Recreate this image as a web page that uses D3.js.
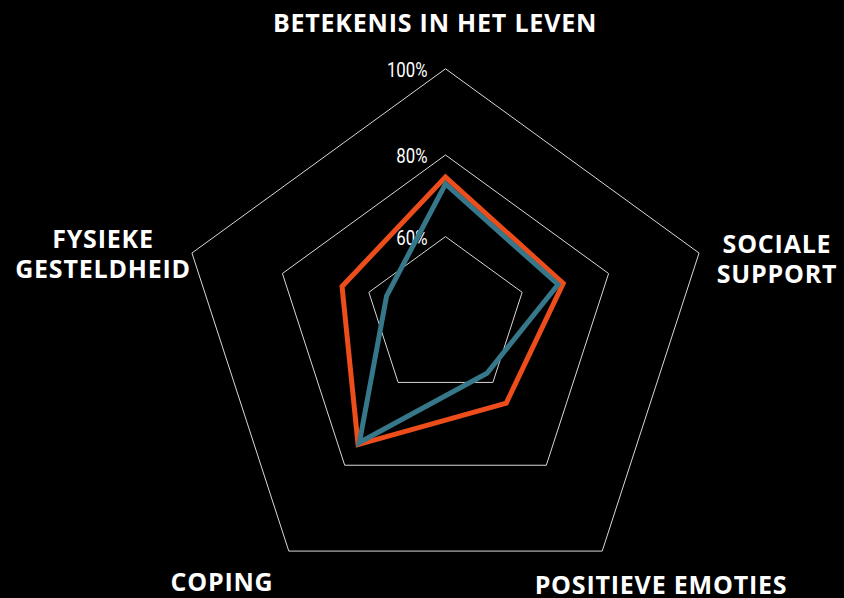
<!DOCTYPE html>
<html>
<head>
<meta charset="utf-8">
<script src="https://cdn.jsdelivr.net/npm/d3@7"></script>
<style>
  html, body { margin: 0; padding: 0; background: #000; }
  svg { display: block; }
  .axis-label { font-family: "Open Sans", sans-serif; font-weight: 700; font-size: 25px; letter-spacing: 0.8px; fill: #fff; }
  .tick-label { font-family: Roboto, sans-serif; font-size: 21px; fill: #fff; }
</style>
</head>
<body>
<svg width="844" height="598"></svg>
<script>
// axes, clockwise from the top
const categories = ['Betekenis in het leven', 'Sociale support', 'Positieve emoties', 'Coping', 'Fysieke gesteldheid'];
// label lines as shown in the picture
const categoryLines = [
  ['BETEKENIS IN HET LEVEN'],
  ['SOCIALE', 'SUPPORT'],
  ['POSITIEVE EMOTIES'],
  ['COPING'],
  ['FYSIEKE', 'GESTELDHEID']
];
const ticks = [60, 80, 100];
const tickLabels = ['60%', '80%', '100%'];

// two series, values in %
const seriesOrange = [74.6, 69.5, 65, 75, 66.2];
const seriesTeal = [72.9, 68.3, 57.8, 74.5, 55.9];

const [width, height] = [844, 598];
const cx = 445.5;

const svg = d3.select('svg');

// the rings are not concentric in the original, center slides down as they grow
const rScale = d3.scaleLinear().domain([60, 80, 100]).range([80.6, 171.5, 266.6]);
const cyScale = d3.scaleLinear().domain([60, 80, 100]).range([317.2, 326.5, 335.4]);
const angle = d3.scaleLinear().domain([0, categories.length]).range([-Math.PI / 2, 1.5 * Math.PI]);

function point(v, i) {
  const a = angle(i);
  return [cx + rScale(v) * Math.cos(a), cyScale(v) + rScale(v) * Math.sin(a)];
}

const closed = d3.line().curve(d3.curveLinearClosed);

// grid rings
svg.append('g')
  .selectAll('path')
  .data(ticks)
  .enter()
  .append('path')
  .attr('d', t => closed(categories.map((c, i) => point(t, i))))
  .attr('fill', 'none')
  .attr('stroke', '#d8d8d8')
  .attr('stroke-width', 1);

// tick labels, just left of the top vertex (squeezed to look condensed)
svg.append('g')
  .selectAll('text')
  .data(ticks)
  .enter()
  .append('text')
  .attr('class', 'tick-label')
  .attr('text-anchor', 'end')
  .attr('transform', t => `translate(${cx - 18}, ${point(t, 0)[1] + 8}) scale(0.8, 1)`)
  .text((t, i) => tickLabels[i]);

// category labels
const labelPos = [
  { x: 435, y: 32 },
  { x: 777, y: 253 },
  { x: 661, y: 594 },
  { x: 222, y: 591 },
  { x: 103, y: 248 }
];

categoryLines.forEach((lines, i) => {
  const p = labelPos[i];
  const txt = svg.append('text')
    .attr('class', 'axis-label')
    .attr('text-anchor', 'middle')
    .attr('x', p.x)
    .attr('y', p.y);
  lines.forEach((l, j) => {
    txt.append('tspan')
      .attr('x', p.x)
      .attr('dy', j === 0 ? 0 : 29.5)
      .text(l);
  });
});

// series lines, teal goes on top
const series = [
  { values: seriesOrange, color: '#ec4d1b' },
  { values: seriesTeal, color: '#36788a' }
];

svg.append('g')
  .selectAll('path')
  .data(series)
  .enter()
  .append('path')
  .attr('d', s => closed(s.values.map((v, i) => point(v, i))))
  .attr('fill', 'none')
  .attr('stroke', s => s.color)
  .attr('stroke-width', 5)
  .attr('stroke-linejoin', 'miter')
  .attr('stroke-miterlimit', 10);
</script>
</body>
</html>
